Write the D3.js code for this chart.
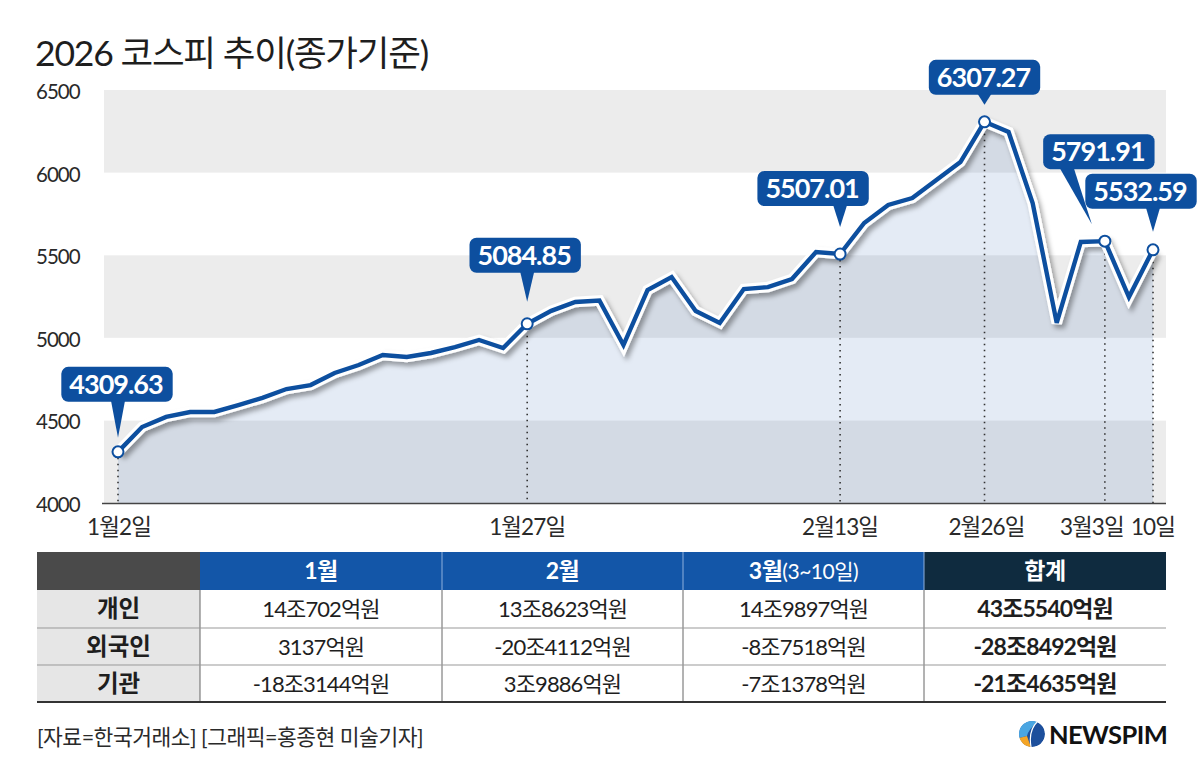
<!DOCTYPE html><meta charset="utf-8">
<title>2026 코스피 추이</title>
<style>
  body{margin:0;background:#fff}
  svg{display:block}
  text{font-family:Lato,"Noto Sans CJK KR",sans-serif}
</style>
<script src="https://d3js.org/d3.v7.min.js"></script>
<body><script>
// trading days Jan 2 ~ Mar 10
const dates = ["1/2","1/5","1/6","1/7","1/8","1/9","1/12","1/13","1/14","1/15","1/16",
  "1/19","1/20","1/21","1/22","1/23","1/26","1/27","1/28","1/29","1/30",
  "2/2","2/3","2/4","2/5","2/6","2/9","2/10","2/11","2/12","2/13",
  "2/19","2/20","2/23","2/24","2/25","2/26","2/27",
  "3/3","3/4","3/5","3/6","3/9","3/10"];
// close
const kospi = [4309.63,4460,4521,4551,4551,4593,4636,4690,4714,4787,4835,
  4896,4884,4908,4944,4987,4938,5084.85,5163,5217,5226,
  4956,5289,5368,5162,5090,5295,5307,5356,5519,5507.01,
  5695,5804,5846,5955,6064,6307.27,6246,
  5816,5090,5580,5585,5247,5532.59];
const yTicks = [4000,4500,5000,5500,6000,6500];
const xTickDates = ["1/2","1/27","2/13","2/26","3/6","3/10"];
const xTickLabels = ["1월2일","1월27일","2월13일","2월26일","3월3일","10일"];
const calloutDates = ["1/2","1/27","2/13","2/26","3/6","3/10"];
const calloutTexts = ["4309.63","5084.85","5507.01","6307.27","5791.91","5532.59"];

// net buying table
const tableCols = ["1월","2월","3월","합계"];
const investors = ["개인","외국인","기관"];
const flowJan = ["14조702억원","3137억원","-18조3144억원"];
const flowFeb = ["13조8623억원","-20조4112억원","3조9886억원"];
const flowMar = ["14조9897억원","-8조7518억원","-7조1378억원"];
const flowSum = ["43조5540억원","-28조8492억원","-21조4635억원"];

const W = 1202, H = 782;
const svg = d3.select("body").append("svg").attr("width",W).attr("height",H);

const defs = svg.append("defs");
defs.append("filter").attr("id","shadow").attr("x","-5%").attr("y","-10%")
  .attr("width","115%").attr("height","130%")
  .append("feDropShadow").attr("dx",3).attr("dy",4).attr("stdDeviation",2.5)
  .attr("flood-color","#000").attr("flood-opacity",0.35);

/* ---- title ---- */
svg.append("text").attr("x",35).attr("y",66).text("2026 코스피 추이(종가기준)")
  .attr("font-family","'Noto Sans CJK KR'").attr("font-size",35.5).attr("letter-spacing",-1.2)
  .attr("fill","#1e1e1e");

/* ---- scales ---- */
const x = d3.scalePoint().domain(dates).range([118,1153]);
const y = d3.scaleLinear().domain([4000,6500]).range([503,90]);
const left = 104, right = 1166;
const data = dates.map((d,i)=>({d, v:kospi[i]}));

// bands
const g = svg.append("g");
g.selectAll("rect.band").data(d3.pairs(yTicks)).enter().append("rect")
  .attr("x",left).attr("width",right-left)
  .attr("y",d=>y(d[1])).attr("height",d=>y(d[0])-y(d[1]))
  .attr("fill",(d,i)=>i%2===0?"#ececec":"#fff");

// area
g.append("path").datum(data)
  .attr("d",d3.area().x(d=>x(d.d)).y0(y(4000)).y1(d=>y(d.v)))
  .attr("fill","rgb(30,90,170)").attr("fill-opacity",0.12);

// dotted drop lines
const byDate = new Map(data.map(d=>[d.d,d]));
g.selectAll("line.drop").data(calloutDates).enter().append("line")
  .attr("x1",d=>x(d)).attr("x2",d=>x(d))
  .attr("y1",d=>y(byDate.get(d).v)).attr("y2",y(4000))
  .attr("stroke","#333").attr("stroke-width",1.6).attr("stroke-dasharray","1.5,4.5");

// axis line
g.append("line").attr("x1",left-2).attr("x2",right).attr("y1",y(4000)+0.5).attr("y2",y(4000)+0.5)
  .attr("stroke","#444").attr("stroke-width",1.6);

// y labels
g.selectAll("text.ytick").data(yTicks).enter().append("text")
  .attr("x",36).attr("y",d=>y(d)+9).text(d=>d)
  .attr("font-size",20.5).attr("letter-spacing",-1).attr("fill","#2a2a2a");

// x labels
const xShift = [1,0,0,2,-13,0];
g.selectAll("text.xtick").data(xTickDates).enter().append("text")
  .attr("x",(d,i)=>x(d)+xShift[i]).attr("y",535).attr("text-anchor","middle")
  .text((d,i)=>xTickLabels[i])
  .attr("font-size",22.5).attr("letter-spacing",-0.9).attr("fill","#2a2a2a");

// line with white casing and shadow
const line = d3.line().x(d=>x(d.d)).y(d=>y(d.v));
const lg = g.append("g").attr("filter","url(#shadow)");
lg.append("path").datum(data).attr("d",line).attr("fill","none")
  .attr("stroke","#fff").attr("stroke-width",10.5).attr("stroke-linejoin","miter");
lg.append("path").datum(data).attr("d",line).attr("fill","none")
  .attr("stroke","#0d4f9f").attr("stroke-width",4.4).attr("stroke-linejoin","miter");

g.selectAll("circle.pt").data(calloutDates).enter().append("circle")
  .attr("cx",d=>x(d)).attr("cy",d=>y(byDate.get(d).v)).attr("r",5.5)
  .attr("fill","#fff").attr("stroke","#0d4f9f").attr("stroke-width",2);

/* ---- callouts ---- */
// box centre dx, box bottom dy, pointer base dx, tip dx, tip dy (relative to point)
const cLayout = [
  [-1,-50,0,0,-14],
  [-2,-51,0,0,-22],
  [-27,-48,0,0,-27],
  [0,-27,0,0,-17],
  [-6,-72,-38,-13,-17],
  [-12,-41,0,0,-18]
];
calloutDates.forEach((d,i)=>{
  const px = x(d), py = y(byDate.get(d).v), L = cLayout[i];
  const cg = g.append("g");
  const t = cg.append("text").text(calloutTexts[i])
    .attr("font-size",27).attr("font-weight",700).attr("letter-spacing",-1)
    .attr("fill","#fff").attr("text-anchor","middle");
  const tw = t.node().getComputedTextLength();
  const bw = tw+18, bh = 35, cx = px+L[0], bb = py+L[1];
  cg.insert("rect","text").attr("x",cx-bw/2).attr("y",bb-bh).attr("width",bw).attr("height",bh)
    .attr("rx",7).attr("fill","#0d4f9f");
  const bx = px+L[2];
  cg.insert("path","text").attr("d",`M${bx-7},${bb-1}L${bx+7},${bb-1}L${px+L[3]},${py+L[4]}Z`)
    .attr("fill","#0d4f9f");
  t.attr("x",cx-1).attr("y",bb-8);
});

/* ---- table ---- */
const colX = [37,200,442,683,924,1166];
const rowY = [552,590,628,665,702];
const tg = svg.append("g");
const headFill = ["#4a4a4a","#1356a8","#1356a8","#1356a8","#0f2b3f"];
headFill.forEach((c,i)=>tg.append("rect").attr("x",colX[i]).attr("y",rowY[0])
  .attr("width",colX[i+1]-colX[i]).attr("height",rowY[1]-rowY[0]).attr("fill",c));
tg.append("rect").attr("x",colX[0]).attr("y",rowY[1]).attr("width",colX[1]-colX[0])
  .attr("height",rowY[4]-rowY[1]).attr("fill","#e6e6e6");
// header separators
[2,3,4].forEach(i=>tg.append("line").attr("x1",colX[i]).attr("x2",colX[i])
  .attr("y1",rowY[0]).attr("y2",rowY[1]).attr("stroke","#8fb0dc").attr("stroke-width",1));
// body grid
[1,2,3,4].forEach(i=>tg.append("line").attr("x1",colX[i]).attr("x2",colX[i])
  .attr("y1",rowY[1]).attr("y2",rowY[4]).attr("stroke","#666").attr("stroke-width",1));
[2,3].forEach(r=>tg.append("line").attr("x1",colX[0]).attr("x2",colX[5])
  .attr("y1",rowY[r]).attr("y2",rowY[r]).attr("stroke","#999").attr("stroke-width",1));
tg.append("line").attr("x1",colX[0]).attr("x2",colX[5]).attr("y1",rowY[4]).attr("y2",rowY[4])
  .attr("stroke","#333").attr("stroke-width",2);

const mid = i=>(colX[i]+colX[i+1])/2, rmid = r=>(rowY[r]+rowY[r+1])/2;
tableCols.forEach((c,i)=>{
  const t = tg.append("text").attr("x",mid(i+1)).attr("y",rmid(0)+8).attr("text-anchor","middle")
    .attr("fill","#fff").attr("font-size",23).attr("font-weight",700).attr("letter-spacing",-0.5);
  t.append("tspan").text(c);
  if(c==="3월") t.append("tspan").text("(3~10일)").attr("font-weight",400).attr("font-size",21);
});
investors.forEach((name,r)=>{
  tg.append("text").attr("x",mid(0)).attr("y",rmid(r+1)+8).attr("text-anchor","middle")
    .text(name).attr("font-size",23.5).attr("font-weight",700).attr("fill","#1e1e1e");
  [flowJan,flowFeb,flowMar,flowSum].forEach((col,c)=>{
    tg.append("text").attr("x",mid(c+1)).attr("y",rmid(r+1)+8).attr("text-anchor","middle")
      .text(col[r]).attr("font-size",c===3?23:22).attr("font-weight",c===3?700:400)
      .attr("letter-spacing",-0.9).attr("fill","#1e1e1e");
  });
});

/* ---- footer ---- */
svg.append("text").attr("x",37).attr("y",745).text("[자료=한국거래소] [그래픽=홍종현 미술기자]")
  .attr("font-family","'Noto Sans CJK KR'").attr("font-size",21.5).attr("letter-spacing",-0.5)
  .attr("fill","#2a2a2a");

// logo
const lgX = 1032, lgY = 734, R = 13;
defs.append("clipPath").attr("id","logoClip").append("circle").attr("cx",lgX).attr("cy",lgY).attr("r",R);
const logo = svg.append("g").attr("clip-path","url(#logoClip)");
logo.append("circle").attr("cx",lgX).attr("cy",lgY).attr("r",R).attr("fill","#1d4f9c");
logo.append("path").attr("d",`M${lgX-R},${lgY-R}L${lgX+6},${lgY-R}Q${lgX-4},${lgY-4} ${lgX-5},${lgY+2}L${lgX-R},${lgY+4}Z`)
  .attr("fill","#4aa6e2");
logo.append("path").attr("d",`M${lgX-R},${lgY+4}L${lgX-5},${lgY+2}Q${lgX-3},${lgY+8} ${lgX-1},${lgY+R}L${lgX-R},${lgY+R}Z`)
  .attr("fill","#f4a526");
logo.append("path").attr("d",`M${lgX+6},${lgY-R}Q${lgX-4},${lgY-4} ${lgX-1},${lgY+R}`)
  .attr("fill","none").attr("stroke","#fff").attr("stroke-width",1.2);
svg.append("text").attr("x",1049).attr("y",744).text("NEWSPIM")
  .attr("font-family","'Liberation Sans',Arial,sans-serif").attr("font-weight",700)
  .attr("font-size",25.5).attr("letter-spacing",-0.6).attr("fill","#111");
</script>
